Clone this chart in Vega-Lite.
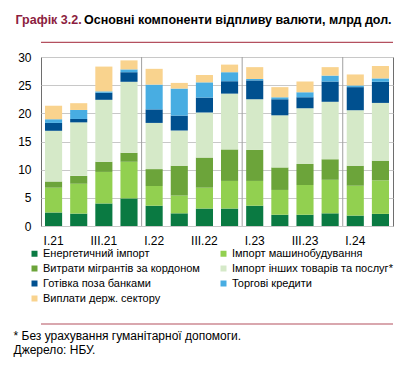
{
  "$schema": "https://vega.github.io/schema/vega-lite/v6.json",
  "width": 352,
  "height": 169,
  "autosize": "none",
  "padding": {"left": 41, "top": 57, "right": 14, "bottom": 142},
  "background": "white",
  "config": {"font": "Liberation Sans", "view": {"stroke": "#6e6e6e", "strokeWidth": 1}},
  "title": {"text": "Основні компоненти відпливу валюти, млрд дол.", "anchor": "start", "frame": "group", "dx": 43, "dy": 22.5, "offset": 0, "fontSize": 12.5, "fontWeight": "bold", "color": "#000000", "baseline": "alphabetic"},
  "datasets": {
    "main": [
      {"q":"I.21","k":1,"c":"Енергетичний імпорт","v":2.4},{"q":"I.21","k":2,"c":"Імпорт машинобудування","v":4.4},{"q":"I.21","k":3,"c":"Витрати мігрантів за кордоном","v":1.1},{"q":"I.21","k":4,"c":"Імпорт інших товарів та послуг*","v":9.0},{"q":"I.21","k":5,"c":"Готівка поза банками","v":1.4},{"q":"I.21","k":6,"c":"Торгові кредити","v":0.65},{"q":"I.21","k":7,"c":"Виплати держ. сектору","v":2.4},
      {"q":"II.21","k":1,"c":"Енергетичний імпорт","v":2.2},{"q":"II.21","k":2,"c":"Імпорт машинобудування","v":5.3},{"q":"II.21","k":3,"c":"Витрати мігрантів за кордоном","v":1.4},{"q":"II.21","k":4,"c":"Імпорт інших товарів та послуг*","v":9.5},{"q":"II.21","k":5,"c":"Готівка поза банками","v":0.6},{"q":"II.21","k":6,"c":"Торгові кредити","v":1.6},{"q":"II.21","k":7,"c":"Виплати держ. сектору","v":1.2},
      {"q":"III.21","k":1,"c":"Енергетичний імпорт","v":4.0},{"q":"III.21","k":2,"c":"Імпорт машинобудування","v":5.6},{"q":"III.21","k":3,"c":"Витрати мігрантів за кордоном","v":1.8},{"q":"III.21","k":4,"c":"Імпорт інших товарів та послуг*","v":11.0},{"q":"III.21","k":5,"c":"Готівка поза банками","v":1.25},{"q":"III.21","k":6,"c":"Торгові кредити","v":0.25},{"q":"III.21","k":7,"c":"Виплати держ. сектору","v":4.4},
      {"q":"IV.21","k":1,"c":"Енергетичний імпорт","v":4.9},{"q":"IV.21","k":2,"c":"Імпорт машинобудування","v":6.5},{"q":"IV.21","k":3,"c":"Витрати мігрантів за кордоном","v":1.6},{"q":"IV.21","k":4,"c":"Імпорт інших товарів та послуг*","v":12.6},{"q":"IV.21","k":5,"c":"Готівка поза банками","v":1.7},{"q":"IV.21","k":6,"c":"Торгові кредити","v":0.5},{"q":"IV.21","k":7,"c":"Виплати держ. сектору","v":1.6},
      {"q":"I.22","k":1,"c":"Енергетичний імпорт","v":3.6},{"q":"I.22","k":2,"c":"Імпорт машинобудування","v":3.5},{"q":"I.22","k":3,"c":"Витрати мігрантів за кордоном","v":3.0},{"q":"I.22","k":4,"c":"Імпорт інших товарів та послуг*","v":8.2},{"q":"I.22","k":5,"c":"Готівка поза банками","v":2.4},{"q":"I.22","k":6,"c":"Торгові кредити","v":4.4},{"q":"I.22","k":7,"c":"Виплати держ. сектору","v":2.8},
      {"q":"II.22","k":1,"c":"Енергетичний імпорт","v":2.25},{"q":"II.22","k":2,"c":"Імпорт машинобудування","v":3.15},{"q":"II.22","k":3,"c":"Витрати мігрантів за кордоном","v":5.3},{"q":"II.22","k":4,"c":"Імпорт інших товарів та послуг*","v":6.25},{"q":"II.22","k":5,"c":"Готівка поза банками","v":2.65},{"q":"II.22","k":6,"c":"Торгові кредити","v":4.8},{"q":"II.22","k":7,"c":"Виплати держ. сектору","v":1.0},
      {"q":"III.22","k":1,"c":"Енергетичний імпорт","v":3.1},{"q":"III.22","k":2,"c":"Імпорт машинобудування","v":3.7},{"q":"III.22","k":3,"c":"Витрати мігрантів за кордоном","v":5.35},{"q":"III.22","k":4,"c":"Імпорт інших товарів та послуг*","v":8.0},{"q":"III.22","k":5,"c":"Готівка поза банками","v":2.65},{"q":"III.22","k":6,"c":"Торгові кредити","v":2.7},{"q":"III.22","k":7,"c":"Виплати держ. сектору","v":1.3},
      {"q":"IV.22","k":1,"c":"Енергетичний імпорт","v":3.1},{"q":"IV.22","k":2,"c":"Імпорт машинобудування","v":4.9},{"q":"IV.22","k":3,"c":"Витрати мігрантів за кордоном","v":5.6},{"q":"IV.22","k":4,"c":"Імпорт інших товарів та послуг*","v":9.9},{"q":"IV.22","k":5,"c":"Готівка поза банками","v":2.2},{"q":"IV.22","k":6,"c":"Торгові кредити","v":1.6},{"q":"IV.22","k":7,"c":"Виплати держ. сектору","v":1.35},
      {"q":"I.23","k":1,"c":"Енергетичний імпорт","v":3.6},{"q":"I.23","k":2,"c":"Імпорт машинобудування","v":4.4},{"q":"I.23","k":3,"c":"Витрати мігрантів за кордоном","v":5.5},{"q":"I.23","k":4,"c":"Імпорт інших товарів та послуг*","v":9.0},{"q":"I.23","k":5,"c":"Готівка поза банками","v":3.35},{"q":"I.23","k":6,"c":"Торгові кредити","v":0.25},{"q":"I.23","k":7,"c":"Виплати держ. сектору","v":2.1},
      {"q":"II.23","k":1,"c":"Енергетичний імпорт","v":2.0},{"q":"II.23","k":2,"c":"Імпорт машинобудування","v":4.4},{"q":"II.23","k":3,"c":"Витрати мігрантів за кордоном","v":4.0},{"q":"II.23","k":4,"c":"Імпорт інших товарів та послуг*","v":9.25},{"q":"II.23","k":5,"c":"Готівка поза банками","v":2.85},{"q":"II.23","k":6,"c":"Торгові кредити","v":0.35},{"q":"II.23","k":7,"c":"Виплати держ. сектору","v":1.8},
      {"q":"III.23","k":1,"c":"Енергетичний імпорт","v":2.0},{"q":"III.23","k":2,"c":"Імпорт машинобудування","v":5.3},{"q":"III.23","k":3,"c":"Витрати мігрантів за кордоном","v":3.7},{"q":"III.23","k":4,"c":"Імпорт інших товарів та послуг*","v":9.9},{"q":"III.23","k":5,"c":"Готівка поза банками","v":1.95},{"q":"III.23","k":6,"c":"Торгові кредити","v":0.9},{"q":"III.23","k":7,"c":"Виплати держ. сектору","v":1.9},
      {"q":"IV.23","k":1,"c":"Енергетичний імпорт","v":2.25},{"q":"IV.23","k":2,"c":"Імпорт машинобудування","v":5.95},{"q":"IV.23","k":3,"c":"Витрати мігрантів за кордоном","v":3.65},{"q":"IV.23","k":4,"c":"Імпорт інших товарів та послуг*","v":10.2},{"q":"IV.23","k":5,"c":"Готівка поза банками","v":3.6},{"q":"IV.23","k":6,"c":"Торгові кредити","v":1.05},{"q":"IV.23","k":7,"c":"Виплати держ. сектору","v":1.5},
      {"q":"I.24","k":1,"c":"Енергетичний імпорт","v":1.85},{"q":"I.24","k":2,"c":"Імпорт машинобудування","v":5.3},{"q":"I.24","k":3,"c":"Витрати мігрантів за кордоном","v":3.55},{"q":"I.24","k":4,"c":"Імпорт інших товарів та послуг*","v":9.85},{"q":"I.24","k":5,"c":"Готівка поза банками","v":4.1},{"q":"I.24","k":6,"c":"Торгові кредити","v":0.3},{"q":"I.24","k":7,"c":"Виплати держ. сектору","v":1.95},
      {"q":"II.24","k":1,"c":"Енергетичний імпорт","v":2.15},{"q":"II.24","k":2,"c":"Імпорт машинобудування","v":5.95},{"q":"II.24","k":3,"c":"Витрати мігрантів за кордоном","v":3.5},{"q":"II.24","k":4,"c":"Імпорт інших товарів та послуг*","v":10.25},{"q":"II.24","k":5,"c":"Готівка поза банками","v":3.75},{"q":"II.24","k":6,"c":"Торгові кредити","v":0.6},{"q":"II.24","k":7,"c":"Виплати держ. сектору","v":2.2}
    ],
    "years": [{"q":"I.22"},{"q":"I.23"},{"q":"I.24"}],
    "topline": [{"v":32.6}],
    "footline": [{"v":-17.4}]
  },
  "layer": [
    {
      "data": {"name": "main"},
      "mark": {"type": "bar"},
      "encoding": {
        "x": {"field": "q", "type": "nominal", "sort": null,
          "scale": {"domain": ["I.21","II.21","III.21","IV.21","I.22","II.22","III.22","IV.22","I.23","II.23","III.23","IV.23","I.24","II.24"], "paddingInner": 0.32, "paddingOuter": 0.16},
          "axis": {"values": ["I.21","III.21","I.22","III.22","I.23","III.23","I.24"], "labelAngle": 0, "ticks": false, "domain": false, "grid": false, "labelPadding": 9, "labelFontSize": 12, "labelColor": "#000000",
            "title": ["* Без урахування гуманітарної допомоги.", "Джерело: НБУ."], "titleX": -28, "titleY": 113, "titleAlign": "left", "titleBaseline": "alphabetic", "titleFontSize": 12, "titleFontWeight": "normal", "titleLineHeight": 14, "titleColor": "#000000"}},
        "y": {"field": "v", "type": "quantitative", "stack": "zero", "scale": {"domain": [0, 30]},
          "axis": {"values": [0,5,10,15,20,25,30], "labelOverlap": false, "grid": true, "gridColor": "#c8c8c8", "domain": false, "ticks": false, "labelPadding": 10, "labelFontSize": 12, "labelColor": "#000000",
            "title": "Графік 3.2.", "titleAngle": 0, "titleX": -26, "titleY": -33.5, "titleAlign": "left", "titleBaseline": "alphabetic", "titleColor": "#8c1d40", "titleFontSize": 12.5, "titleFontWeight": "bold"}},
        "color": {"field": "c", "type": "nominal",
          "scale": {"domain": ["Енергетичний імпорт","Імпорт машинобудування","Витрати мігрантів за кордоном","Імпорт інших товарів та послуг*","Готівка поза банками","Торгові кредити","Виплати держ. сектору"],
                    "range": ["#0a7a42","#92d050","#6ca43a","#d5e9c8","#00508f","#48ade2","#f9d38e"]},
          "legend": {"orient": "none", "direction": "horizontal", "legendX": -12, "legendY": 191, "columns": 2, "title": null, "symbolType": "square", "symbolSize": 36, "symbolStrokeWidth": 0, "labelFontSize": 11, "labelColor": "#000000", "labelOffset": 3, "columnPadding": 18, "rowPadding": 3, "padding": 0, "labelLimit": 300}},
        "order": {"field": "k", "type": "quantitative"}
      }
    },
    {
      "data": {"name": "years"},
      "mark": {"type": "rule", "color": "#a0a0a0", "xOffset": -4},
      "encoding": {"x": {"field": "q", "type": "nominal", "bandPosition": 0,
          "axis": {"values": ["I.21","III.21","I.22","III.22","I.23","III.23","I.24"], "labelAngle": 0, "ticks": false, "domain": false, "grid": false, "labelPadding": 9, "labelFontSize": 12, "labelColor": "#000000",
            "title": ["* Без урахування гуманітарної допомоги.", "Джерело: НБУ."], "titleX": -28, "titleY": 113, "titleAlign": "left", "titleBaseline": "alphabetic", "titleFontSize": 12, "titleFontWeight": "normal", "titleLineHeight": 14, "titleColor": "#000000"}}}
    },
    {
      "data": {"name": "topline"},
      "mark": {"type": "rule", "color": "#b4505f", "strokeWidth": 1.2},
      "encoding": {"y": {"field": "v", "type": "quantitative",
          "axis": {"values": [0,5,10,15,20,25,30], "labelOverlap": false, "grid": true, "gridColor": "#c8c8c8", "domain": false, "ticks": false, "labelPadding": 10, "labelFontSize": 12, "labelColor": "#000000",
            "title": "Графік 3.2.", "titleAngle": 0, "titleX": -26, "titleY": -33.5, "titleAlign": "left", "titleBaseline": "alphabetic", "titleColor": "#8c1d40", "titleFontSize": 12.5, "titleFontWeight": "bold"}}}
    },
    {
      "data": {"name": "footline"},
      "mark": {"type": "rule", "color": "#b4505f", "strokeWidth": 1.2},
      "encoding": {"y": {"field": "v", "type": "quantitative",
          "axis": {"values": [0,5,10,15,20,25,30], "labelOverlap": false, "grid": true, "gridColor": "#c8c8c8", "domain": false, "ticks": false, "labelPadding": 10, "labelFontSize": 12, "labelColor": "#000000",
            "title": "Графік 3.2.", "titleAngle": 0, "titleX": -26, "titleY": -33.5, "titleAlign": "left", "titleBaseline": "alphabetic", "titleColor": "#8c1d40", "titleFontSize": 12.5, "titleFontWeight": "bold"}}}
    }
  ]
}
